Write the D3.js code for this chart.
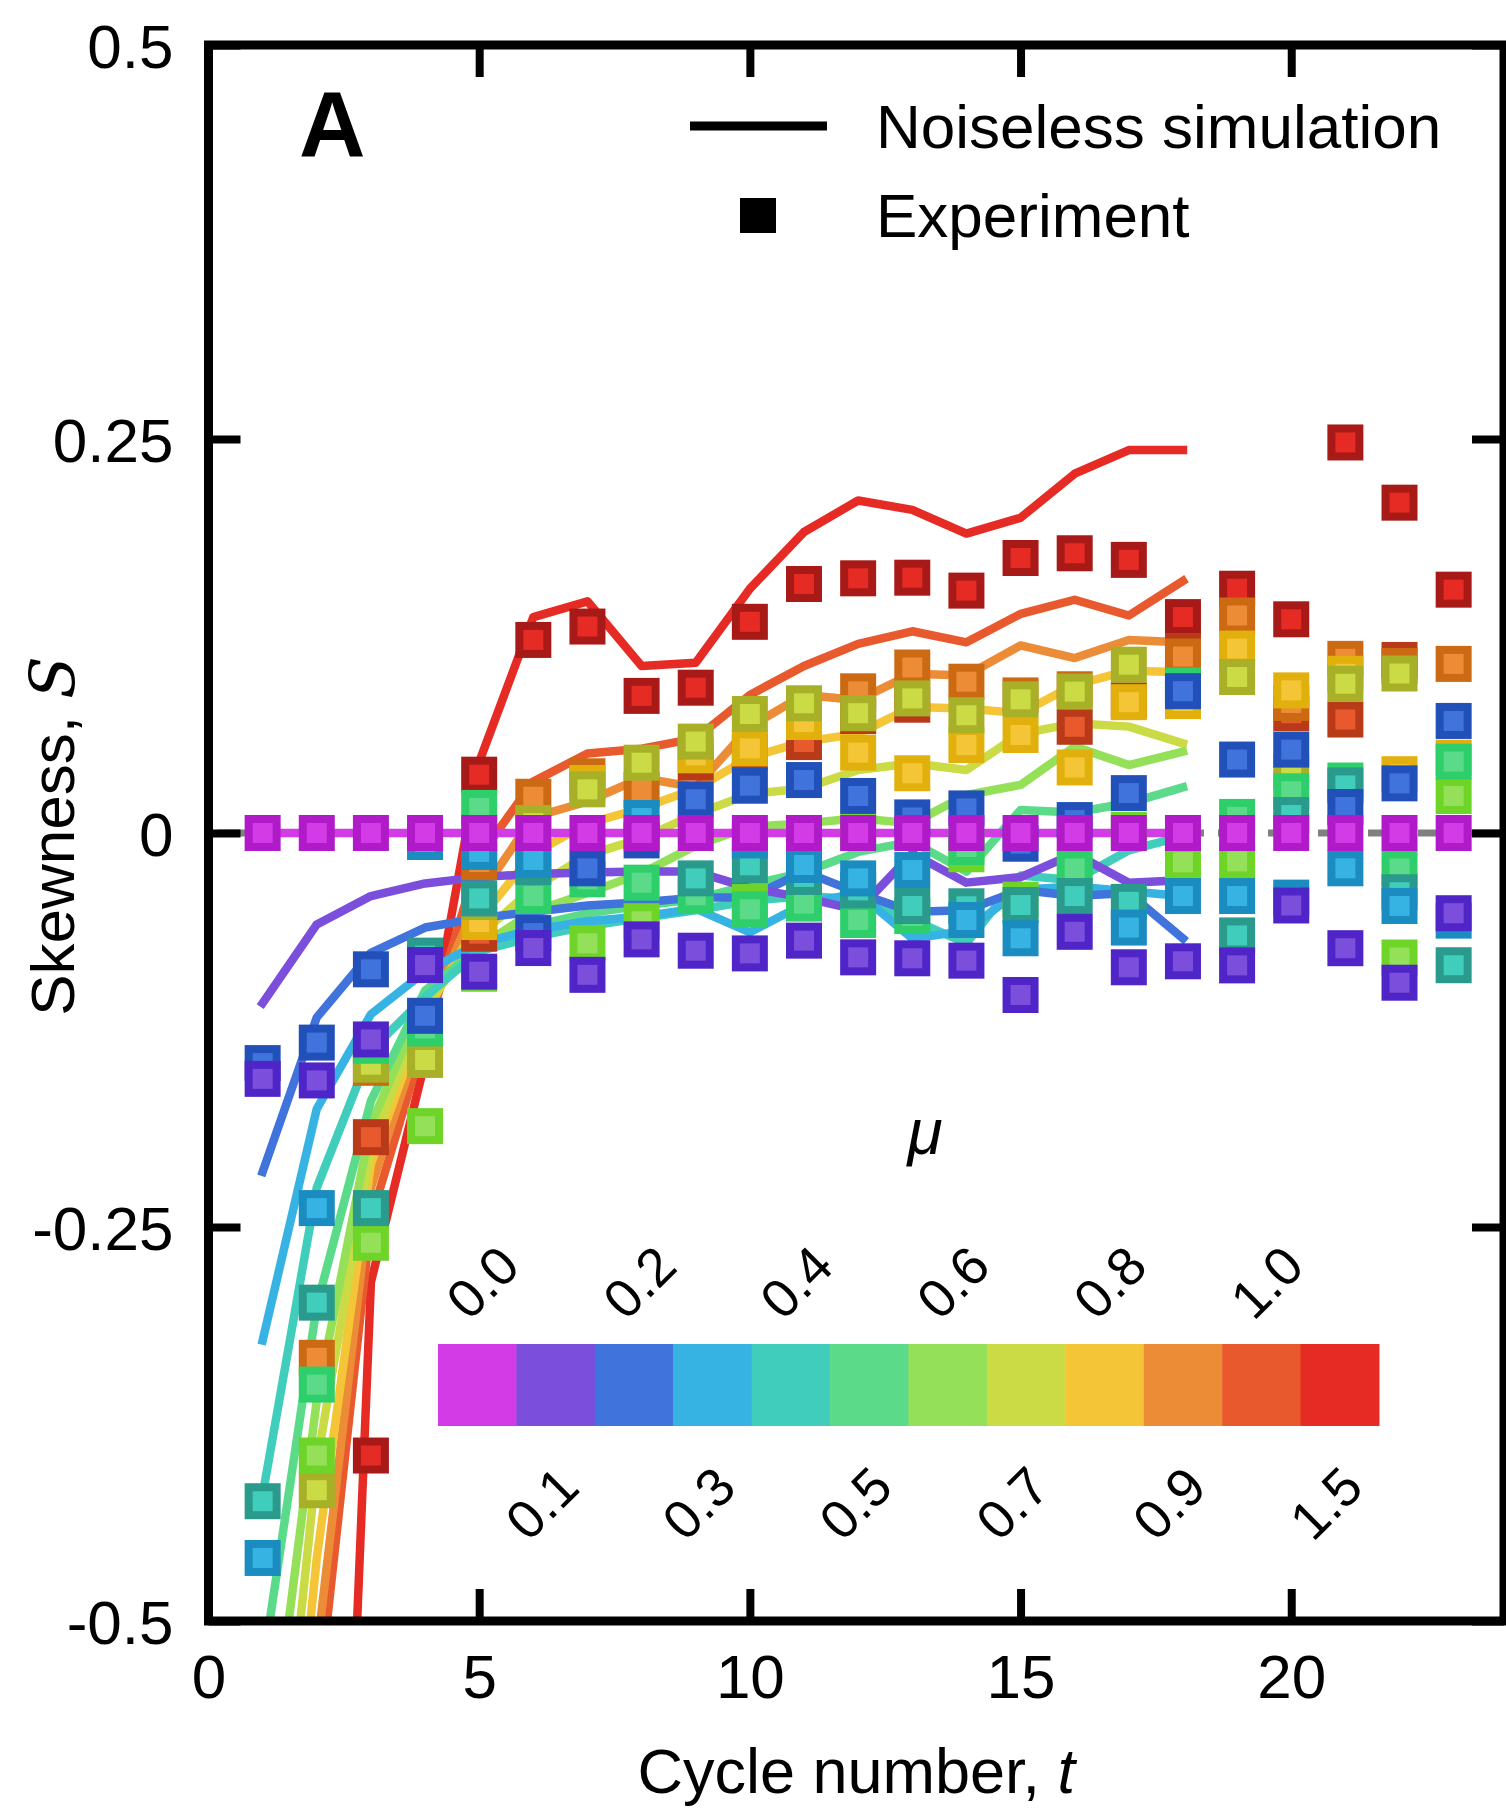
<!DOCTYPE html>
<html>
<head>
<meta charset="utf-8">
<script src="https://cdn.jsdelivr.net/npm/d3@7"></script>
<style>
  body { margin: 0; background: #fff; }
  text { font-family: "Liberation Sans", Arial, sans-serif; fill: #000; }
</style>
</head>
<body>
<svg id="chart" width="1506" height="1808"></svg>
<script>
// cycle numbers (experiment runs to 23, simulation to 18)
const cycles = [1, 2, 3, 4, 5, 6, 7, 8, 9, 10, 11, 12, 13, 14, 15, 16, 17, 18, 19, 20, 21, 22, 23];
const simCycles = [1, 2, 3, 4, 5, 6, 7, 8, 9, 10, 11, 12, 13, 14, 15, 16, 17, 18];

const muLabels = ["0.0", "0.1", "0.2", "0.3", "0.4", "0.5", "0.6", "0.7", "0.8", "0.9", "1.0", "1.5"];
const muColors = ["#d23be6", "#7b4edc", "#4073dc", "#36b3e3", "#40cdbb", "#5bdb8a",
                  "#94e058", "#cadb45", "#f4c637", "#ec8c36", "#e8592d", "#e52b24"];
const muEdges  = ["#b01ac8", "#5025c8", "#2150b8", "#1a8cc0", "#2a9a8c", "#2ecf6a",
                  "#6fd428", "#a8b028", "#e2b00c", "#cc6a14", "#b83a18", "#a81a17"];

// noiseless simulation, t = 1..18
const sim00 = [0, 0, 0, 0, 0, 0, 0, 0, 0, 0, 0, 0, 0, 0, 0, 0, 0, 0];
const sim01 = [-0.108, -0.058, -0.040, -0.032, -0.028, -0.026, -0.025, -0.0245, -0.0245, -0.035, -0.041, -0.049, -0.013, -0.0315, -0.028, -0.013, -0.0315, -0.030];
const sim02 = [-0.215, -0.117, -0.076, -0.060, -0.054, -0.050, -0.046, -0.044, -0.041, -0.041, -0.0245, -0.038, -0.050, -0.049, -0.036, -0.040, -0.038, -0.067];
const sim03 = [-0.322, -0.175, -0.115, -0.088, -0.070, -0.0615, -0.056, -0.053, -0.048, -0.063, -0.045, -0.038, -0.067, -0.062, -0.036, -0.034, -0.037, -0.040];
const sim04 = [-0.42, -0.225, -0.138, -0.104, -0.075, -0.066, -0.059, -0.054, -0.049, -0.043, -0.040, -0.042, -0.055, -0.070, -0.027, -0.030, -0.011, -0.002];
const sim05 = [-0.53, -0.30, -0.17, -0.10, -0.073, -0.059, -0.051, -0.046, -0.042, -0.033, -0.025, -0.012, -0.0055, -0.0245, 0.0146, 0.013, 0.019, 0.029];
const sim06 = [-0.63, -0.36, -0.185, -0.105, -0.072, -0.050, -0.038, -0.0256, -0.008, 0.004, 0.0061, 0.0093, 0.0061, 0.0241, 0.0305, 0.0548, 0.0431, 0.0516];
const sim07 = [-0.73, -0.40, -0.20, -0.11, -0.065, -0.035, -0.014, -0.0034, 0.012, 0.0247, 0.0283, 0.040, 0.0442, 0.040, 0.063, 0.0696, 0.0675, 0.0569];
const sim08 = [-0.80, -0.46, -0.21, -0.115, -0.055, -0.013, 0.006, 0.0157, 0.028, 0.048, 0.058, 0.063, 0.080, 0.079, 0.076, 0.094, 0.103, 0.102];
const sim09 = [-0.90, -0.52, -0.225, -0.12, -0.04, 0.010, 0.020, 0.035, 0.029, 0.0675, 0.0876, 0.0844, 0.101, 0.100, 0.119, 0.111, 0.1225, 0.121];
const sim10 = [-1.00, -0.56, -0.245, -0.13, -0.015, 0.0326, 0.0505, 0.0535, 0.060, 0.0876, 0.106, 0.120, 0.128, 0.121, 0.139, 0.148, 0.138, 0.160];
const sim15 = [null, -1.13, -0.285, -0.145, 0.045, 0.137, 0.147, 0.106, 0.108, 0.155, 0.191, 0.211, 0.205, 0.190, 0.200, 0.228, 0.243, 0.243];

// experiment, t = 1..23 (null = not visible)
const exp00 = [0, 0, 0, 0, 0, 0, 0, 0, 0, 0, 0, 0, 0, 0, 0, 0, 0, 0, 0, 0, 0, 0, 0];
const exp01 = [-0.156, -0.157, -0.131, -0.0838, -0.088, -0.073, -0.090, -0.0675, -0.0747, -0.0764, -0.0683, -0.0789, -0.0795, -0.081, -0.1028, -0.0627, -0.0852, -0.0814, -0.084, -0.046, -0.0731, -0.095, -0.0509];
const exp02 = [-0.146, -0.133, -0.0865, -0.116, null, -0.0635, -0.0224, -0.0047, 0.0214, 0.030, 0.0336, 0.0235, 0.0099, 0.0156, -0.0068, 0.0082, 0.0253, 0.090, 0.0466, 0.0529, 0.0165, 0.0315, 0.0711];
const exp03 = [-0.460, -0.238, null, -0.0057, -0.012, -0.0171, null, 0.0095, null, -0.0047, -0.0203, -0.0288, -0.0235, -0.0552, -0.0668, null, -0.060, -0.040, -0.040, -0.041, -0.0224, -0.0463, -0.0556];
const exp04 = [-0.424, -0.298, -0.238, -0.0778, -0.0415, -0.0216, null, null, -0.0288, -0.0205, -0.0279, -0.0364, -0.0463, -0.0465, -0.0457, -0.040, -0.0437, null, -0.065, 0.0114, 0.0302, -0.0376, -0.0839];
const exp05 = [null, -0.350, -0.135, -0.124, 0.0159, -0.040, -0.0294, -0.0315, -0.0396, -0.0484, -0.0448, -0.0552, -0.0527, -0.0089, null, -0.0225, null, 0.0935, 0.0102, 0.0265, 0.0333, -0.0225, 0.0453];
const exp06 = [null, -0.395, -0.260, -0.186, -0.0893, null, -0.070, -0.056, null, -0.0438, null, 0.0006, null, -0.0135, -0.0423, null, 0.0019, -0.0186, -0.018, null, null, -0.079, 0.0235];
const exp07 = [null, -0.417, -0.147, -0.144, -0.0438, 0.0063, 0.0277, 0.0446, 0.058, 0.0755, 0.0823, 0.076, 0.0854, 0.0747, 0.0848, 0.0897, 0.1068, null, 0.099, 0.039, 0.0947, 0.1012, null];
const exp08 = [null, null, null, null, -0.0565, null, 0.0317, null, 0.0493, 0.0537, 0.0704, 0.051, 0.0379, 0.0558, 0.0622, 0.0416, 0.083, 0.0837, 0.117, 0.0905, 0.101, 0.0373, 0.0478];
const exp09 = [null, -0.333, -0.149, null, -0.0184, 0.023, 0.036, 0.0273, null, null, null, 0.0899, 0.105, 0.096, 0.0873, 0.0912, null, 0.112, 0.138, 0.0825, 0.1105, 0.106, 0.1073];
const exp10 = [null, null, -0.193, null, -0.0639, null, null, null, 0.0446, 0.0514, 0.0577, 0.0742, 0.0814, null, null, 0.0674, 0.0842, 0.1155, null, 0.076, 0.072, 0.1098, null];
const exp15 = [null, null, -0.395, null, 0.037, 0.1225, 0.131, 0.087, 0.0922, 0.134, 0.158, 0.1616, 0.162, 0.1538, 0.1745, 0.1775, 0.1733, 0.137, 0.155, 0.1356, 0.2478, 0.2096, 0.1544];

const simSeries = [sim00, sim01, sim02, sim03, sim04, sim05, sim06, sim07, sim08, sim09, sim10, sim15];
const expSeries = [exp00, exp01, exp02, exp03, exp04, exp05, exp06, exp07, exp08, exp09, exp10, exp15];

const yTicks = [-0.5, -0.25, 0, 0.25, 0.5];
const xTicks = [0, 5, 10, 15, 20];

var svg = d3.select("#chart");

var x = d3.scaleLinear().domain([0, 23.93]).range([208.5, 1504]);
var y = d3.scaleLinear().domain([-0.5, 0.5]).range([1621, 45]);

svg.append("defs").append("clipPath").attr("id", "plotclip")
  .append("rect")
  .attr("x", x(0)).attr("y", y(0.5))
  .attr("width", x(23.93) - x(0)).attr("height", y(-0.5) - y(0.5));

var plot = svg.append("g").attr("clip-path", "url(#plotclip)");

// grey dashed zero reference
plot.append("line")
  .attr("x1", x(0)).attr("x2", x(23.93))
  .attr("y1", y(0)).attr("y2", y(0))
  .attr("stroke", "#808080")
  .attr("stroke-width", 7)
  .attr("stroke-dasharray", "36,14")
  .attr("stroke-dashoffset", 40.5);

// simulation lines, highest mu first so mu=0 ends on top
var line = d3.line()
  .defined(d => d.v !== null)
  .x(d => x(d.t))
  .y(d => y(d.v));

for (let i = simSeries.length - 1; i >= 0; i--) {
  var pts = simCycles.map((t, k) => ({ t: t, v: simSeries[i][k] }));
  plot.append("path")
    .datum(pts)
    .attr("fill", "none")
    .attr("stroke", muColors[i])
    .attr("stroke-width", 8.5)
    .attr("stroke-linejoin", "round")
    .attr("stroke-linecap", "square")
    .attr("d", line);
}

// experiment squares
for (let i = expSeries.length - 1; i >= 0; i--) {
  var pts = cycles.map((t, k) => ({ t: t, v: expSeries[i][k] })).filter(d => d.v !== null);
  plot.append("g")
    .selectAll("rect")
    .data(pts)
    .join("rect")
    .attr("x", d => x(d.t) - 14)
    .attr("y", d => y(d.v) - 14)
    .attr("width", 28)
    .attr("height", 28)
    .attr("fill", muColors[i])
    .attr("stroke", muEdges[i])
    .attr("stroke-width", 8);
}

// axes: ticks pointing inward on all four sides
function styleAxis(g) {
  g.select(".domain").remove();
  g.selectAll(".tick line").attr("stroke", "#000").attr("stroke-width", 8);
  g.selectAll(".tick text").attr("font-size", 62).attr("font-family", "Liberation Sans, Arial, sans-serif");
}

svg.append("g")
  .attr("transform", "translate(" + x(0) + ",0)")
  .call(d3.axisLeft(y).tickValues(yTicks).tickSize(-32).tickPadding(35).tickFormat(d => String(d)))
  .call(styleAxis)
  .selectAll(".tick text").attr("dy", "0.37em");

svg.append("g")
  .attr("transform", "translate(" + x(23.93) + ",0)")
  .call(d3.axisRight(y).tickValues(yTicks).tickSize(-32).tickFormat(""))
  .call(styleAxis);

svg.append("g")
  .attr("transform", "translate(0," + y(-0.5) + ")")
  .call(d3.axisBottom(x).tickValues(xTicks).tickSize(-32).tickPadding(33).tickFormat(d => String(d)))
  .call(styleAxis);

svg.append("g")
  .attr("transform", "translate(0," + y(0.5) + ")")
  .call(d3.axisTop(x).tickValues(xTicks.slice(1)).tickSize(-32).tickFormat(""))
  .call(styleAxis);

// frame
svg.append("rect")
  .attr("x", x(0)).attr("y", y(0.5))
  .attr("width", x(23.93) - x(0)).attr("height", y(-0.5) - y(0.5))
  .attr("fill", "none").attr("stroke", "#000").attr("stroke-width", 9);

// axis titles
svg.append("text")
  .attr("x", (x(0) + x(23.93)) / 2).attr("y", 1793)
  .attr("text-anchor", "middle").attr("font-size", 63)
  .html('Cycle number, <tspan font-style="italic">t</tspan>');

svg.append("text")
  .attr("transform", "translate(74,836) rotate(-90)")
  .attr("text-anchor", "middle").attr("font-size", 62)
  .html('Skewness, <tspan font-style="italic" font-family="DejaVu Serif, serif">S</tspan>');

// panel letter
svg.append("text")
  .attr("x", 299).attr("y", 156)
  .attr("font-size", 92).attr("font-weight", "bold")
  .text("A");

// legend
var legend = svg.append("g");
legend.append("line")
  .attr("x1", 690).attr("x2", 827).attr("y1", 126).attr("y2", 126)
  .attr("stroke", "#000").attr("stroke-width", 9);
legend.append("rect")
  .attr("x", 740).attr("y", 198).attr("width", 36).attr("height", 35)
  .attr("fill", "#000");
legend.append("text").attr("x", 876).attr("y", 148).attr("font-size", 62).text("Noiseless simulation");
legend.append("text").attr("x", 876).attr("y", 237).attr("font-size", 62).text("Experiment");

// colour bar for mu
var cb = d3.scaleBand().domain(muLabels).range([438, 1379]);
var cbar = svg.append("g");
cbar.selectAll("rect")
  .data(muLabels)
  .join("rect")
  .attr("x", d => cb(d))
  .attr("y", 1344)
  .attr("width", cb.bandwidth() + 0.5)
  .attr("height", 82)
  .attr("fill", (d, i) => muColors[i]);

cbar.selectAll("text.top")
  .data(muLabels.filter((d, i) => i % 2 === 0))
  .join("text")
  .attr("class", "top")
  .attr("font-size", 54)
  .attr("text-anchor", "start")
  .attr("transform", d => "translate(" + (cb(d) + cb.bandwidth() / 2 - 8) + ",1322) rotate(-45)")
  .text(d => d);

cbar.selectAll("text.bot")
  .data(muLabels.filter((d, i) => i % 2 === 1))
  .join("text")
  .attr("class", "bot")
  .attr("font-size", 54)
  .attr("text-anchor", "end")
  .attr("transform", d => "translate(" + (cb(d) + cb.bandwidth() / 2 + 26) + ",1490) rotate(-45)")
  .text(d => d);

cbar.append("text")
  .attr("x", 925).attr("y", 1154)
  .attr("text-anchor", "middle")
  .attr("font-size", 64).attr("font-style", "italic")
  .text("μ");
</script>
</body>
</html>
